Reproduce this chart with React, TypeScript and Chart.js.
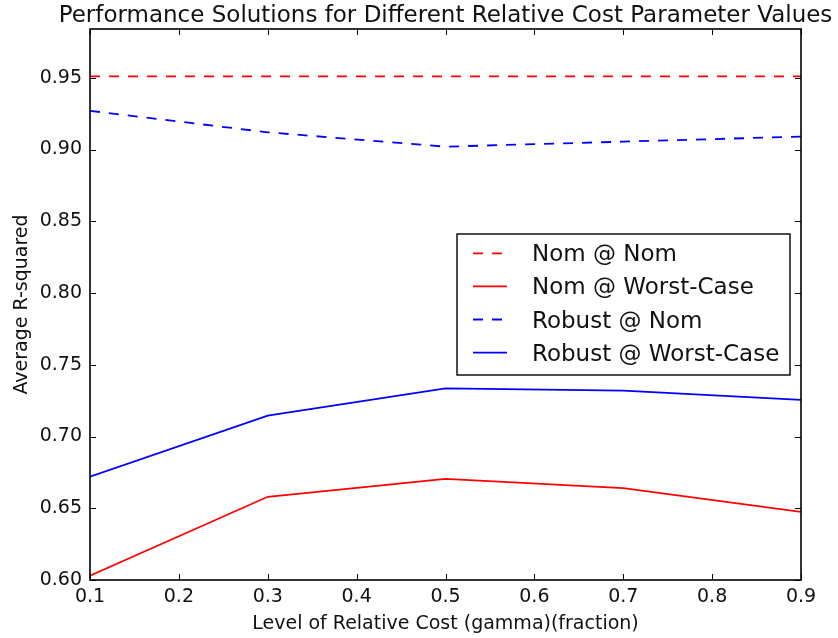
import { useEffect, useRef } from "react";
import { Chart, registerables } from "chart.js";

Chart.register(...registerables);

// Relative cost levels (gamma, as a fraction)
const gammaLevels = [0.1, 0.3, 0.5, 0.7, 0.9];

// Average R-squared for each solution / evaluation scenario
const nomAtNom = [0.951, 0.951, 0.951, 0.951, 0.951];
const nomAtWorst = [0.603, 0.658, 0.6705, 0.664, 0.6475];
const robustAtNom = [0.927, 0.912, 0.902, 0.9055, 0.909];
const robustAtWorst = [0.672, 0.7145, 0.7335, 0.732, 0.7255];

const seriesLabels = ["Nom @ Nom", "Nom @ Worst-Case", "Robust @ Nom", "Robust @ Worst-Case"];

const xTicks = [0.1, 0.2, 0.3, 0.4, 0.5, 0.6, 0.7, 0.8, 0.9];
const yTicks = [0.6, 0.65, 0.7, 0.75, 0.8, 0.85, 0.9, 0.95];

const titleText = "Performance Solutions for Different Relative Cost Parameter Values";
const xTitle = "Level of Relative Cost (gamma)(fraction)";
const yTitle = "Average R-squared";

const FONT = "'DejaVu Sans', 'Liberation Sans', sans-serif";
const RED = "#ff0000";
const BLUE = "#0000ff";
const DASH = [10, 9];

const toPoints = (ys: number[]) => gammaLevels.map((g, i) => ({ x: g, y: ys[i] }));

// Draws the matplotlib-style frame, inward ticks, titles and the legend box.
const decorations = {
  id: "decorations",
  afterDatasetsDraw(chart: any) {
    const ctx: CanvasRenderingContext2D = chart.ctx;
    const { left, right, top, bottom } = chart.chartArea;
    const xs = chart.scales.x;
    const ys = chart.scales.y;
    const tickLen = 6;

    ctx.save();
    ctx.strokeStyle = "#000";
    ctx.lineWidth = 1;
    ctx.beginPath();
    xTicks.forEach((v) => {
      const px = Math.round(xs.getPixelForValue(v)) + 0.5;
      ctx.moveTo(px, bottom);
      ctx.lineTo(px, bottom - tickLen);
      ctx.moveTo(px, top);
      ctx.lineTo(px, top + tickLen);
    });
    yTicks.forEach((v) => {
      const py = Math.round(ys.getPixelForValue(v)) + 0.5;
      ctx.moveTo(left, py);
      ctx.lineTo(left + tickLen, py);
      ctx.moveTo(right, py);
      ctx.lineTo(right - tickLen, py);
    });
    ctx.stroke();

    ctx.lineWidth = 1.6;
    ctx.strokeRect(left, top, right - left, bottom - top);

    // titles
    ctx.fillStyle = "#111";
    ctx.textAlign = "center";
    ctx.textBaseline = "alphabetic";
    ctx.font = `23px ${FONT}`;
    ctx.fillText(titleText, (left + right) / 2, 22);
    ctx.font = `19px ${FONT}`;
    ctx.fillText(xTitle, (left + right) / 2, 629);
    ctx.save();
    ctx.translate(27, (top + bottom) / 2);
    ctx.rotate(-Math.PI / 2);
    ctx.fillText(yTitle, 0, 0);
    ctx.restore();

    // legend
    const bx = 457, by = 234, bw = 333, bh = 141;
    ctx.fillStyle = "#fff";
    ctx.fillRect(bx, by, bw, bh);
    ctx.lineWidth = 1.4;
    ctx.strokeStyle = "#000";
    ctx.strokeRect(bx, by, bw, bh);
    ctx.font = `23px ${FONT}`;
    ctx.textAlign = "left";
    chart.data.datasets.forEach((ds: any, i: number) => {
      const rowY = 253.3 + i * 33.1;
      ctx.save();
      ctx.strokeStyle = ds.borderColor;
      ctx.lineWidth = ds.borderWidth;
      ctx.setLineDash(ds.borderDash || []);
      ctx.beginPath();
      ctx.moveTo(473, rowY);
      ctx.lineTo(507, rowY);
      ctx.stroke();
      ctx.restore();
      ctx.fillStyle = "#111";
      ctx.fillText(ds.label, 532, rowY + 8);
    });
    ctx.restore();
  },
};

export default function App() {
  const canvasRef = useRef<HTMLCanvasElement | null>(null);

  useEffect(() => {
    if (!canvasRef.current) return;
    const mk = (label: string, data: number[], color: string, dashed: boolean) => ({
      label,
      data: toPoints(data),
      borderColor: color,
      backgroundColor: color,
      borderWidth: 1.8,
      borderDash: dashed ? DASH : [],
      pointRadius: 0,
      tension: 0,
      fill: false,
    });

    const chart = new Chart(canvasRef.current, {
      type: "line",
      data: {
        datasets: [
          mk(seriesLabels[0], nomAtNom, RED, true),
          mk(seriesLabels[1], nomAtWorst, RED, false),
          mk(seriesLabels[2], robustAtNom, BLUE, true),
          mk(seriesLabels[3], robustAtWorst, BLUE, false),
        ],
      },
      options: {
        animation: false,
        responsive: true,
        maintainAspectRatio: false,
        layout: { padding: { top: 29, right: 37, left: 0, bottom: 0 } },
        plugins: {
          legend: { display: false },
          title: { display: false },
          tooltip: { enabled: false },
        },
        scales: {
          x: {
            type: "linear",
            min: 0.1,
            max: 0.9,
            grid: { display: false, drawTicks: false, tickLength: 0 },
            border: { display: false },
            afterBuildTicks: (axis: any) => {
              axis.ticks = xTicks.map((v) => ({ value: v }));
            },
            afterFit: (axis: any) => {
              axis.height = 58;
            },
            ticks: {
              padding: 6,
              color: "#111",
              font: { family: FONT, size: 19 },
              callback: (v: any) => Number(v).toFixed(1),
            },
          },
          y: {
            type: "linear",
            min: 0.6,
            max: 0.984,
            grid: { display: false, drawTicks: false, tickLength: 0 },
            border: { display: false },
            afterBuildTicks: (axis: any) => {
              axis.ticks = yTicks.map((v) => ({ value: v }));
            },
            afterFit: (axis: any) => {
              axis.width = 90;
            },
            ticks: {
              padding: 8,
              color: "#111",
              font: { family: FONT, size: 19 },
              callback: (v: any) => Number(v).toFixed(2),
            },
          },
        },
      },
      plugins: [decorations],
    });
    return () => chart.destroy();
  }, []);

  return (
    <div style={{ position: "fixed", left: 0, top: 0, width: 838, height: 638, background: "#fff" }}>
      <canvas ref={canvasRef} />
    </div>
  );
}
